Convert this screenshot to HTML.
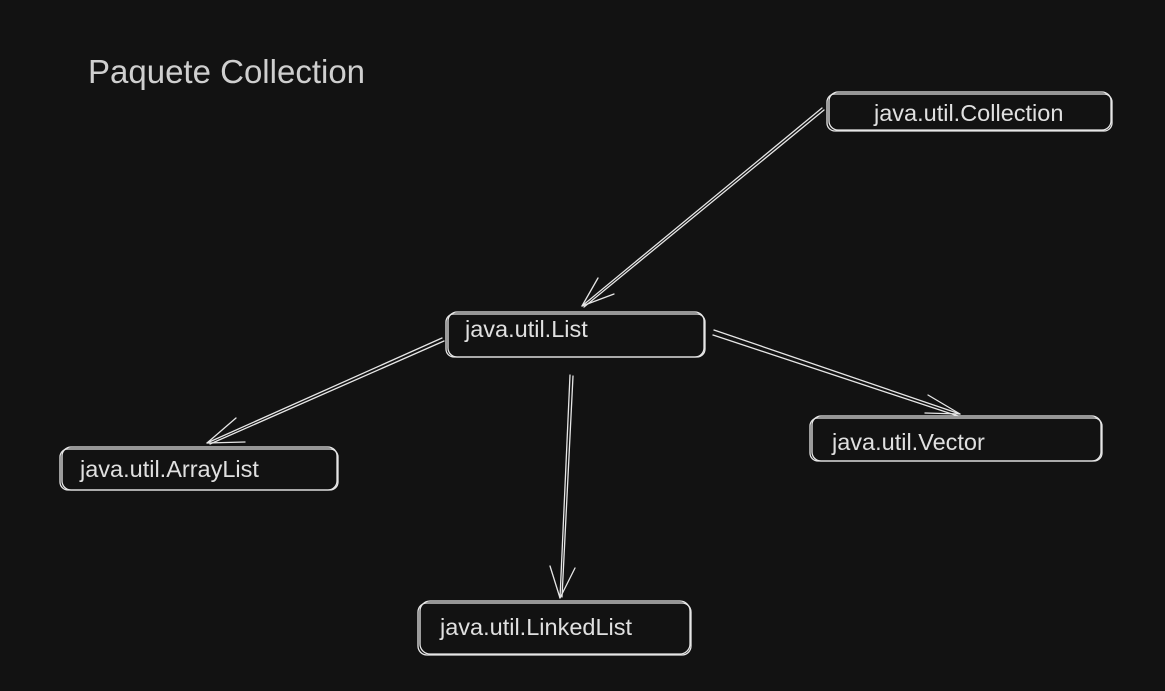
<!DOCTYPE html>
<html><head><meta charset="utf-8"><style>
html,body{margin:0;padding:0;background:#121212;}
body{width:1165px;height:691px;overflow:hidden;position:relative;font-family:"Liberation Sans",sans-serif;}
svg{position:absolute;left:0;top:0;}
.t{position:absolute;color:#e0e0e0;font-size:23.5px;white-space:nowrap;line-height:1;}
</style></head><body>
<svg width="1165" height="691" viewBox="0 0 1165 691" fill="none" stroke="#e6e6e6" stroke-width="1.3" stroke-linecap="round">
<rect x="827" y="94" width="285" height="37" rx="8"/>
<rect x="829" y="92" width="282" height="38" rx="9"/>
<rect x="446" y="314" width="259" height="43" rx="8"/>
<rect x="448" y="312" width="256" height="45" rx="9"/>
<rect x="60" y="449" width="278" height="41" rx="8"/>
<rect x="62" y="447" width="275" height="43" rx="9"/>
<rect x="810" y="418" width="292" height="43" rx="8"/>
<rect x="812" y="416" width="289" height="45" rx="9"/>
<rect x="418" y="603" width="273" height="52" rx="9"/>
<rect x="420" y="601" width="270" height="53" rx="10"/>
<path d="M822 108 L582 306 M824 110 L584 307"/>
<path d="M582 306 L598 278 M582 306 L614 294"/>
<path d="M442 338 L207 443 M444 341 L210 444"/>
<path d="M207 443 L236 418 M207 443 L245 442"/>
<path d="M570 375 L560 598 M573 376 L562 597"/>
<path d="M560 598 L550 566 M560 598 L575 568"/>
<path d="M714 330 L960 414 M713 335 L958 416"/>
<path d="M960 414 L928 395 M960 414 L925 413"/>
</svg>
<div class="t" style="left:88px;top:55px;font-size:33px;color:#cfcfcf;">Paquete Collection</div>
<div class="t" style="left:874px;top:102px;">java.util.Collection</div>
<div class="t" style="left:465px;top:318px;">java.util.List</div>
<div class="t" style="left:80px;top:458px;">java.util.ArrayList</div>
<div class="t" style="left:832px;top:431px;">java.util.Vector</div>
<div class="t" style="left:440px;top:616px;">java.util.LinkedList</div>
</body></html>
